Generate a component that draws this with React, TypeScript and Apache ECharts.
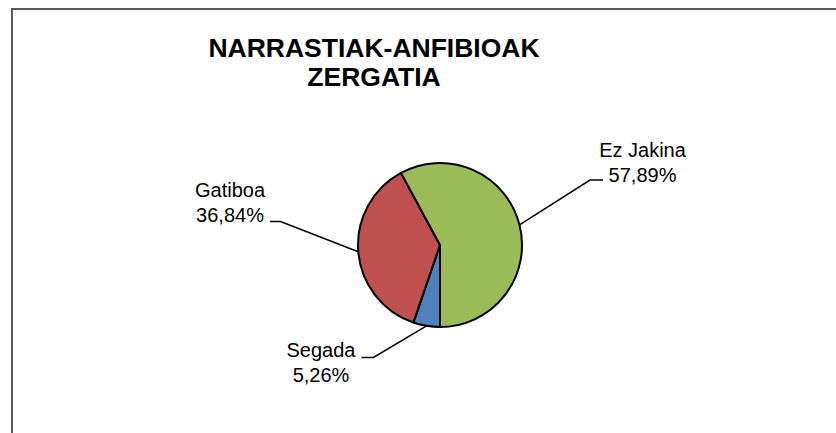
import React, { useEffect, useRef } from "react";
import * as echarts from "echarts";

// ---- data ----
const titleLines = ["NARRASTIAK-ANFIBIOAK", "ZERGATIA"];
const categories = ["Segada", "Gatiboa", "Ez Jakina"];
const counts = [1, 7, 11];
const colors = ["#4F81BD", "#C0504D", "#9BBB59"];

// ---- layout (label placement, as in the reference) ----
const labelCenters: [number, number][] = [
  [321, 362.5],
  [230, 202],
  [642.5, 162],
];
const labelLineBends: [number, number][][] = [
  [[373.5, 357.5], [361.5, 357.5]],
  [[280.5, 221.5], [270, 221.5]],
  [[590, 180], [603, 180]],
];

export default function App() {
  const ref = useRef<HTMLDivElement>(null);
  useEffect(() => {
    if (!ref.current) return;
    const chart = echarts.init(ref.current, undefined, { renderer: "svg" });
    const total = counts.reduce((a, b) => a + b, 0);
    const pct = (v: number) => ((v / total) * 100).toFixed(2).replace(".", ",") + "%";
    chart.setOption({
      animation: false,
      backgroundColor: "#ffffff",
      graphic: [
        {
          type: "rect",
          shape: { x: 12, y: 9, width: 900, height: 600 },
          style: { fill: "none", stroke: "#595959", lineWidth: 2 },
          silent: true,
        },
        {
          type: "text",
          x: 374,
          y: 62.5,
          style: {
            text: titleLines.join("\n"),
            align: "center",
            verticalAlign: "middle",
            fontFamily: "Liberation Sans, Arial, sans-serif",
            fontWeight: "bold",
            fontSize: 26.5,
            lineHeight: 29.5,
            fill: "#000",
          },
          silent: true,
        },
      ],
      series: [
        {
          type: "pie",
          center: [440, 245],
          radius: 82,
          startAngle: -90,
          clockwise: true,
          avoidLabelOverlap: false,
          silent: true,
          emphasis: { disabled: true },
          itemStyle: { borderColor: "#000", borderWidth: 2 },
          label: {
            show: true,
            position: "outside",
            formatter: (p: any) => `${p.name}\n${pct(p.value)}`,
            fontFamily: "Liberation Sans, Arial, sans-serif",
            fontSize: 20,
            lineHeight: 25,
            color: "#000",
            align: "center",
          },
          labelLine: {
            show: true,
            length: 20,
            length2: 10,
            lineStyle: { color: "#000", width: 1.5 },
          },
          labelLayout: (params: any) => {
            const i = params.dataIndex;
            const start = params.labelLinePoints ? params.labelLinePoints[0] : [0, 0];
            return {
              x: labelCenters[i][0],
              y: labelCenters[i][1],
              align: "center",
              verticalAlign: "middle",
              labelLinePoints: [start, labelLineBends[i][0], labelLineBends[i][1]],
            };
          },
          data: categories.map((name, i) => ({
            name,
            value: counts[i],
            itemStyle: { color: colors[i] },
          })),
        },
      ],
    });
    return () => chart.dispose();
  }, []);
  return (
    <div
      ref={ref}
      style={{ position: "absolute", left: 0, top: 0, width: 836, height: 433 }}
    />
  );
}
